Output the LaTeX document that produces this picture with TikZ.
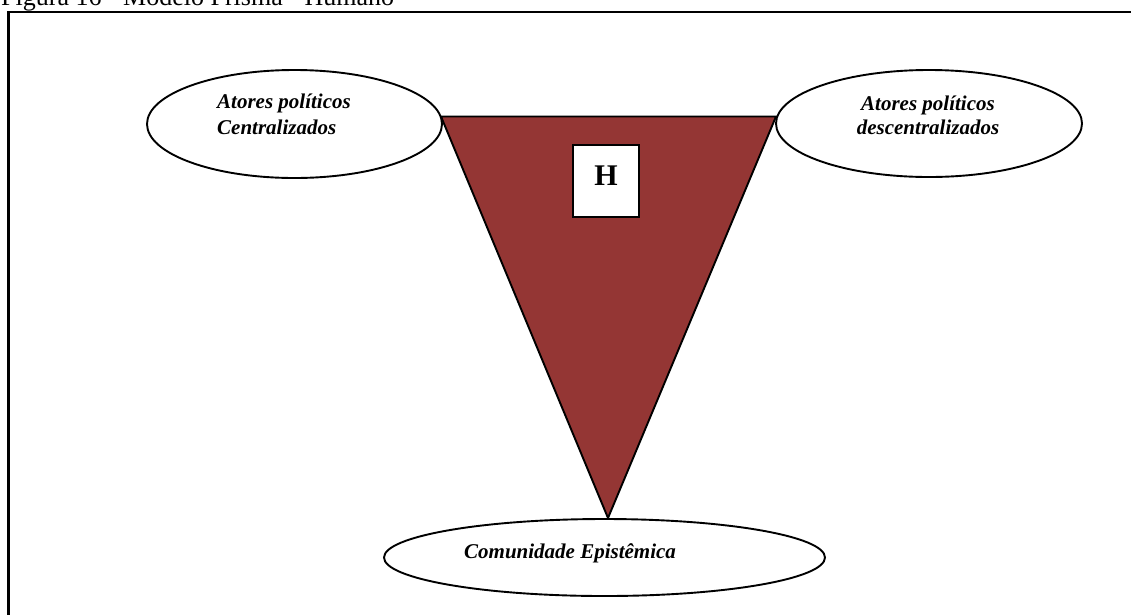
\documentclass[tikz,border=0pt]{standalone}
\usepackage{fontspec}
\setmainfont{Liberation Serif}
\usetikzlibrary{shapes.geometric}
\definecolor{prismred}{HTML}{943634}
\tikzset{
  actor/.style={ellipse, draw, line width=1.9pt, fill=white, inner sep=0pt},
  actortext/.style={font=\fontsize{21}{25}\selectfont\bfseries\itshape, inner sep=0pt},
}
\begin{document}
\begin{tikzpicture}[x=1pt,y=-1pt]
\clip (0,0) rectangle (1131,614);
\fill[white] (0,0) rectangle (1131,614);

% caption above the frame
\node[anchor=base west, inner sep=0pt, font=\fontsize{26}{30}\selectfont] (caption) at (1,5) {Figura 16 - Modelo Prisma - Humano};

% frame
\draw[line width=2.6pt] (8.5,640) -- (8.5,12) -- (1140,12);

% inverted prism
\coordinate (tl) at (441,116.5);
\coordinate (tr) at (776,116.5);
\coordinate (tb) at (608,518);
\draw[fill=prismred, line width=1.9pt, line join=miter] (tl) -- (tr) -- (tb) -- cycle;

% actors
\node[actor, minimum width=295pt, minimum height=108pt] (central) at (294.5,124) {};
\node[actor, minimum width=306pt, minimum height=107pt] (decentral) at (929,123.5) {};
\node[actor, minimum width=441pt, minimum height=77pt] (episteme) at (604.5,557.5) {};

\node[actortext, anchor=base west] (centralA) at (217,108) {Atores políticos};
\node[actortext, anchor=base west] (centralB) at (217,134) {Centralizados};
\node[actortext, anchor=base] (decentralA) at (928,110) {Atores políticos};
\node[actortext, anchor=base] (decentralB) at (928,134) {descentralizados};
\node[actortext, anchor=base west] (epistemeA) at (464,558) {Comunidade Epistêmica};

% H box
\node[draw, line width=1.9pt, fill=white, minimum width=66pt, minimum height=72pt, inner sep=0pt] (hbox) at (606,181) {};
\node[font=\fontsize{30}{30}\selectfont\bfseries, inner sep=0pt] (hletter) at (606,176) {H};
\end{tikzpicture}
\end{document}
